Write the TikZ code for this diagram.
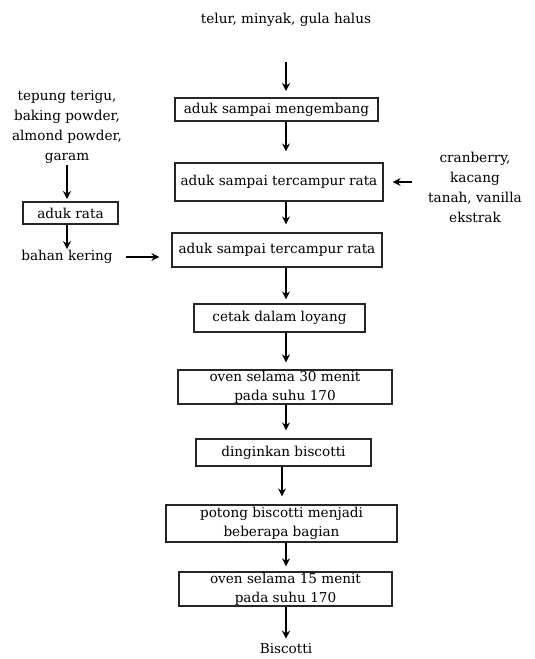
\documentclass[tikz,border=0pt]{standalone}
\usepackage{fontspec}
\setmainfont{DejaVu Serif}
\usetikzlibrary{positioning, arrows.meta}

\begin{document}
\begin{tikzpicture}[
  x=1pt, y=-1pt,
  font=\fontsize{13.6}{20}\selectfont, >=Stealth,
  txt/.style ={align=center, inner sep=1pt},
  box/.style ={draw=black!85, line width=1.2pt, align=center, inner sep=1pt},
  boxb/.style={box, line width=2pt},
  flow/.style={-{Stealth[length=8pt, width=8pt]}, line width=1.4pt, draw=black},
]
\useasboundingbox (0,0) rectangle (535,659);

% ---------- main column ----------
\node[txt] (eggs) at (286,20) {telur, minyak, gula halus};
\coordinate (spine) at (286,62);
\node[boxb, minimum width=203, minimum height=23] (mix1)  at (276.5,109.5) {aduk sampai mengembang};
\node[box,  minimum width=208, minimum height=38] (mix2)  at (279,182)     {aduk sampai tercampur rata};
\node[box,  minimum width=210, minimum height=34] (mix3)  at (277,250)     {aduk sampai tercampur rata};
\node[box,  minimum width=171, minimum height=28] (mold)  at (279.5,318)   {cetak dalam loyang};
\node[box,  minimum width=214, minimum height=34, font=\fontsize{13.6}{19}\selectfont] (oven1) at (285,387) {oven selama 30 menit\\pada suhu 170};
\node[box,  minimum width=175, minimum height=27] (cool)  at (283.5,452.5) {dinginkan biscotti};
\node[box,  minimum width=231, minimum height=37, font=\fontsize{13.6}{19}\selectfont] (cut)   at (281.5,523.5) {potong biscotti menjadi\\beberapa bagian};
\node[box,  minimum width=213, minimum height=34, font=\fontsize{13.6}{19}\selectfont] (oven2) at (285.5,589) {oven selama 15 menit\\pada suhu 170};
\node[txt] (done) at (286,649) {Biscotti};

% ---------- dry side ----------
\node[txt] (flour) at (67,127) {tepung terigu,\\baking powder,\\almond powder,\\garam};
\node[boxb, minimum width=95, minimum height=22] (mixdry) at (70.5,213) {aduk rata};
\node[txt] (dry) at (67,257) {bahan kering};

% ---------- extras ----------
\node[txt] (extra) at (475,187) {cranberry,\\kacang\\tanah, vanilla\\ekstrak};

% ---------- flows ----------
\draw[flow] (spine) -- ([yshift=6pt]mix1.north -| spine);
\draw[flow] (mix1.south -| spine) -- ([yshift=11pt]mix2.north -| spine);
\draw[flow] (mix2.south -| spine) -- ([yshift=8pt]mix3.north -| spine);
\draw[flow] (mix3.south -| spine) -- ([yshift=4pt]mold.north -| spine);
\draw[flow] (mold.south -| spine) -- ([yshift=7pt]oven1.north -| spine);
\draw[flow] (oven1.south -| spine) -- ([yshift=8pt]cool.north -| spine);
\draw[flow] ([xshift=-4pt]cool.south -| spine) -- ([xshift=-4pt,yshift=8pt]cut.north -| spine);
\draw[flow] (cut.south -| spine) -- ([yshift=5pt]oven2.north -| spine);
\draw[flow] (oven2.south -| spine) -- ([yshift=4pt]done.north -| spine);

\draw[flow] (flour.south -| dry) -- ([yshift=2pt]mixdry.north -| dry);
\draw[flow] (mixdry.south -| dry) -- (dry.north);
\draw[flow] ([xshift=12pt]dry.east) -- ([xshift=-12pt]mix3.west |- dry);
\draw[flow] ([xshift=-15pt]extra.west |- mix2) -- ([xshift=9pt]mix2.east);

\end{tikzpicture}
\end{document}
